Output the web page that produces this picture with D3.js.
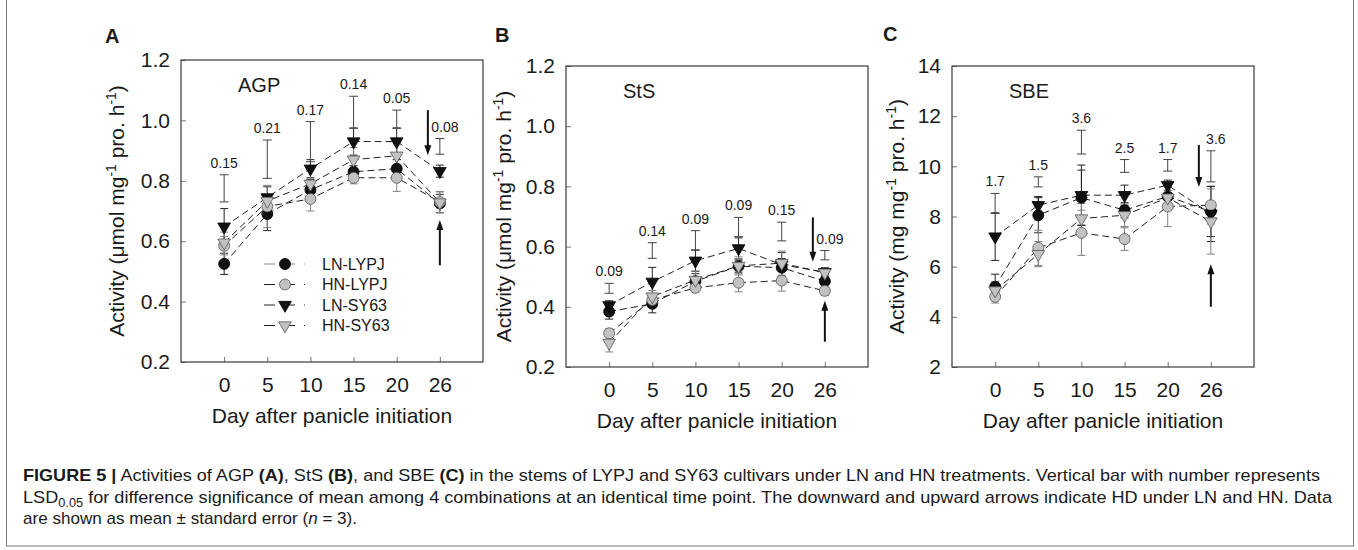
<!DOCTYPE html>
<html>
<head>
<meta charset="utf-8">
<script src="https://cdn.jsdelivr.net/npm/d3@7"></script>
<style>
  body { margin: 0; background: #fff; }
  svg text { fill: #1a1a1a; }
</style>
</head>
<body>
<script>
// x categories (day after panicle initiation)
var days = [0, 5, 10, 15, 20, 26];
var seriesNames = ["LN-LYPJ", "HN-LYPJ", "LN-SY63", "HN-SY63"];

// AGP, series in the order of seriesNames
var agpMeans = [
  [0.525, 0.69, 0.77, 0.83, 0.84, 0.725],
  [0.585, 0.715, 0.74, 0.81, 0.81, 0.73],
  [0.648, 0.745, 0.84, 0.93, 0.93, 0.832],
  [0.595, 0.733, 0.79, 0.87, 0.883, 0.728]
];
var agpSe = [
  [0.035, 0.055, 0.035, 0.02, 0.03, 0.03],
  [0.03, 0.07, 0.04, 0.02, 0.045, 0.035],
  [0.06, 0.035, 0.03, 0.045, 0.045, 0.02],
  [0.035, 0.05, 0.06, 0.04, 0.04, 0.035]
];
var agpLsdTop = [0.82, 0.935, 0.996, 1.08, 1.034, 0.94];
var agpLsdBottom = [0.73, 0.808, 0.863, 0.974, 0.974, 0.888];
var agpLsdLabels = ["0.15", "0.21", "0.17", "0.14", "0.05", "0.08"];
var agpArrows = [1.034, 0.885, 0.52, 0.67];   // down top, down tip, up bottom, up tip

// StS
var stsMeans = [
  [0.384, 0.41, 0.485, 0.535, 0.53, 0.485],
  [0.312, 0.423, 0.463, 0.48, 0.487, 0.453],
  [0.405, 0.483, 0.553, 0.594, 0.54, 0.515],
  [0.28, 0.434, 0.489, 0.536, 0.545, 0.513]
];
var stsSe = [
  [0.025, 0.03, 0.025, 0.02, 0.03, 0.02],
  [0.015, 0.02, 0.015, 0.03, 0.035, 0.015],
  [0.015, 0.048, 0.035, 0.035, 0.04, 0.015],
  [0.03, 0.02, 0.03, 0.03, 0.04, 0.015]
];
var stsLsdTop = [0.478, 0.613, 0.653, 0.697, 0.681, 0.587];
var stsLsdBottom = [0.445, 0.561, 0.589, 0.633, 0.619, 0.556];
var stsLsdLabels = ["0.09", "0.14", "0.09", "0.09", "0.15", "0.09"];
var stsArrows = [0.697, 0.55, 0.284, 0.42];

// SBE
var sbeMeans = [
  [5.2, 8.05, 8.75, 8.25, 8.8, 8.2],
  [4.8, 6.75, 7.35, 7.1, 8.4, 8.45],
  [7.2, 8.45, 8.85, 8.85, 9.25, 8.1],
  [5.05, 6.5, 7.92, 8.05, 8.75, 7.8]
];
var sbeSe = [
  [0.5, 0.7, 1.1, 0.3, 0.4, 1.0],
  [0.25, 0.7, 0.9, 0.45, 0.8, 0.75],
  [0.95, 0.35, 1.2, 0.4, 0.2, 1.1],
  [0.35, 0.5, 0.6, 0.45, 0.5, 1.3]
];
var sbeLsdTop = [8.92, 9.58, 11.44, 10.27, 10.27, 10.62];
var sbeLsdBottom = [8.12, 9.18, 10.49, 9.76, 9.81, 9.38];
var sbeLsdLabels = ["1.7", "1.5", "3.6", "2.5", "1.7", "3.6"];
var sbeArrows = [10.85, 9.18, 4.4, 6.1];

var smallTicks = [0.2, 0.4, 0.6, 0.8, 1.0, 1.2];
var sbeTicks = [2, 4, 6, 8, 10, 12, 14];

var W = 1358, H = 550;
var svg = d3.select("body").append("svg")
    .attr("width", W).attr("height", H)
    .style("font-family", "'Liberation Sans', Arial, sans-serif");

// marker look per series
var isBlack = [true, false, true, false];
var isCircle = [true, true, false, false];

function marker(sel, i) {
    var fill = isBlack[i] ? "#111" : "#c2c2c2";
    var stroke = isBlack[i] ? "#000" : "#555";
    if (isCircle[i]) {
        sel.append("circle").attr("r", 5.5).attr("fill", fill).attr("stroke", stroke).attr("stroke-width", 0.8);
    } else {
        sel.append("path").attr("d", d3.symbol().type(d3.symbolTriangle).size(70)())
            .attr("transform", "rotate(180)")
            .attr("fill", fill).attr("stroke", stroke).attr("stroke-width", 0.8);
    }
}

function drawPanel(p) {
    var g = svg.append("g");
    var x = d3.scalePoint().domain(days).range([p.left, p.right]).padding(1);
    var y = d3.scaleLinear().domain(p.yDomain).range([p.bottom, p.top]);

    // axes (ticks point inward)
    var yAxis = d3.axisLeft(y).tickValues(p.yTicks).tickFormat(p.fmt)
        .tickSizeInner(-5).tickSizeOuter(0).tickPadding(11);
    var gy = g.append("g").attr("transform", "translate(" + p.left + ",0)").call(yAxis);
    var xAxis = d3.axisBottom(x).tickSizeInner(-5).tickSizeOuter(0).tickPadding(15);
    var gx = g.append("g").attr("transform", "translate(0," + p.bottom + ")").call(xAxis);
    [gx, gy].forEach(function(a) {
        a.select(".domain").remove();
        a.selectAll(".tick line").attr("stroke", "#777");
        a.selectAll("text").attr("font-size", 21).attr("fill", "#1a1a1a")
            .attr("font-family", "'Liberation Sans', Arial, sans-serif");
    });

    g.append("rect")
        .attr("x", p.left).attr("y", p.top)
        .attr("width", p.right - p.left).attr("height", p.bottom - p.top)
        .attr("fill", "none").attr("stroke", "#3a3a3a").attr("stroke-width", 1.2);

    // axis titles
    g.append("text")
        .attr("x", (p.left + p.right) / 2).attr("y", p.bottom + 61)
        .attr("text-anchor", "middle").attr("font-size", 21)
        .text("Day after panicle initiation");

    var yl = g.append("text")
        .attr("transform", "translate(" + (p.left - p.yLabelOff) + "," + ((p.top + p.bottom) / 2) + ") rotate(-90)")
        .attr("text-anchor", "middle").attr("font-size", 21);
    yl.append("tspan").text("Activity (" + p.unit + " mg");
    yl.append("tspan").attr("dy", -8).attr("font-size", 14).text("-1");
    yl.append("tspan").attr("dy", 8).text(" pro. h");
    yl.append("tspan").attr("dy", -8).attr("font-size", 14).text("-1");
    yl.append("tspan").attr("dy", 8).text(")");

    // panel letter and enzyme name
    svg.append("text").attr("x", p.letterX).attr("y", p.letterY)
        .attr("font-size", 20).attr("font-weight", "bold").text(p.letter);
    g.append("text").attr("x", p.left + 57).attr("y", p.top + 32)
        .attr("font-size", 20).text(p.name);

    // dashed lines
    var line = d3.line().x(function(d, i) { return x(days[i]); }).y(function(d) { return y(d); });
    p.means.forEach(function(m) {
        g.append("path").attr("d", line(m))
            .attr("fill", "none").attr("stroke", "#222").attr("stroke-width", 1)
            .attr("stroke-dasharray", "7,4");
    });

    // standard error bars
    p.means.forEach(function(m, s) {
        var col = isBlack[s] ? "#222" : "#808080";
        m.forEach(function(v, i) {
            var cx = x(days[i]), y0 = y(v - p.se[s][i]), y1 = y(v + p.se[s][i]);
            g.append("line").attr("x1", cx).attr("x2", cx).attr("y1", y0).attr("y2", y1).attr("stroke", col);
            [y0, y1].forEach(function(yy) {
                g.append("line").attr("x1", cx - 4).attr("x2", cx + 4).attr("y1", yy).attr("y2", yy).attr("stroke", col);
            });
        });
    });

    // LSD bars with numbers
    p.lsdTop.forEach(function(t, i) {
        var cx = x(days[i]), yt = y(t), yb = y(p.lsdBottom[i]);
        g.append("line").attr("x1", cx).attr("x2", cx).attr("y1", yt).attr("y2", yb).attr("stroke", "#444");
        [yt, yb].forEach(function(yy) {
            g.append("line").attr("x1", cx - 4.5).attr("x2", cx + 4.5).attr("y1", yy).attr("y2", yy).attr("stroke", "#444");
        });
        g.append("text").attr("x", cx + (i === days.length - 1 ? 5 : 0)).attr("y", yt - 7)
            .attr("text-anchor", "middle").attr("font-size", 14).text(p.lsdLabels[i]);
    });

    // markers
    p.means.forEach(function(m, s) {
        m.forEach(function(v, i) {
            g.append("g").attr("transform", "translate(" + x(days[i]) + "," + y(v) + ")")
                .call(marker, s);
        });
    });

    // heading-date arrows (down = LN, up = HN)
    var xd = x(26) - 12, xu = x(26);
    var a = p.arrows;
    g.append("line").attr("x1", xd).attr("x2", xd).attr("y1", y(a[0])).attr("y2", y(a[1]) - 8)
        .attr("stroke", "#111").attr("stroke-width", 2);
    g.append("path").attr("d", "M" + (xd - 3.5) + "," + (y(a[1]) - 10) + "L" + (xd + 3.5) + "," + (y(a[1]) - 10) + "L" + xd + "," + y(a[1]) + "Z")
        .attr("fill", "#111");
    g.append("line").attr("x1", xu).attr("x2", xu).attr("y1", y(a[2])).attr("y2", y(a[3]) + 8)
        .attr("stroke", "#111").attr("stroke-width", 2);
    g.append("path").attr("d", "M" + (xu - 3.5) + "," + (y(a[3]) + 10) + "L" + (xu + 3.5) + "," + (y(a[3]) + 10) + "L" + xu + "," + y(a[3]) + "Z")
        .attr("fill", "#111");

    if (p.legend) {
        seriesNames.forEach(function(name, s) {
            var ly = p.top + 204 + s * 20.5;
            g.append("line").attr("x1", p.left + 81).attr("x2", p.left + 124).attr("y1", ly).attr("y2", ly)
                .attr("stroke", s === 0 ? "#888" : "#222").attr("stroke-dasharray", "11,9").attr("stroke-dashoffset", -2);
            g.append("g").attr("transform", "translate(" + (p.left + 104) + "," + ly + ")").call(marker, s);
            g.append("text").attr("x", p.left + 141).attr("y", ly + 5.5).attr("font-size", 16).text(name);
        });
    }
}

var fmt1 = d3.format(".1f");
drawPanel({ left: 181, right: 483, top: 60, bottom: 362, yDomain: [0.2, 1.2], yTicks: smallTicks, fmt: fmt1,
    means: agpMeans, se: agpSe, lsdTop: agpLsdTop, lsdBottom: agpLsdBottom, lsdLabels: agpLsdLabels,
    arrows: agpArrows, name: "AGP", letter: "A", letterX: 105, letterY: 43, unit: "μmol", yLabelOff: 57, legend: true });
drawPanel({ left: 566, right: 868, top: 66, bottom: 367, yDomain: [0.2, 1.2], yTicks: smallTicks, fmt: fmt1,
    means: stsMeans, se: stsSe, lsdTop: stsLsdTop, lsdBottom: stsLsdBottom, lsdLabels: stsLsdLabels,
    arrows: stsArrows, name: "StS", letter: "B", letterX: 495, letterY: 42, unit: "μmol", yLabelOff: 55 });
drawPanel({ left: 952, right: 1254, top: 66, bottom: 367, yDomain: [2, 14], yTicks: sbeTicks, fmt: d3.format("d"),
    means: sbeMeans, se: sbeSe, lsdTop: sbeLsdTop, lsdBottom: sbeLsdBottom, lsdLabels: sbeLsdLabels,
    arrows: sbeArrows, name: "SBE", letter: "C", letterX: 883, letterY: 41, unit: "mg", yLabelOff: 48 });

// figure border
svg.append("rect").attr("x", 6.5).attr("y", -5).attr("width", 1347).attr("height", 551)
    .attr("fill", "none").attr("stroke", "#777");

// caption
var capFont = "'Liberation Sans Narrow', 'Liberation Sans', Arial, sans-serif";
function capLine(yy, len, parts) {
    var t = svg.append("text").attr("x", 23).attr("y", yy).attr("font-size", 17)
        .attr("font-family", capFont).attr("textLength", len).attr("lengthAdjust", "spacingAndGlyphs");
    parts.forEach(function(pt) {
        var s = t.append("tspan").text(pt.t);
        if (pt.b) s.attr("font-weight", "bold");
        if (pt.i) s.attr("font-style", "italic");
        if (pt.dy) s.attr("dy", pt.dy);
        if (pt.fs) s.attr("font-size", pt.fs);
    });
}
capLine(481, 1297, [
    { t: "FIGURE 5 |", b: true },
    { t: " Activities of AGP " }, { t: "(A)", b: true },
    { t: ", StS " }, { t: "(B)", b: true },
    { t: ", and SBE " }, { t: "(C)", b: true },
    { t: " in the stems of LYPJ and SY63 cultivars under LN and HN treatments. Vertical bar with number represents" }
]);
capLine(503, 1309, [
    { t: "LSD" }, { t: "0.05", dy: 4, fs: 12 },
    { t: " for difference significance of mean among 4 combinations at an identical time point. The downward and upward arrows indicate HD under LN and HN. Data", dy: -4 }
]);
capLine(524, 334, [
    { t: "are shown as mean ± standard error (" }, { t: "n", i: true }, { t: " = 3)." }
]);
</script>
</body>
</html>
